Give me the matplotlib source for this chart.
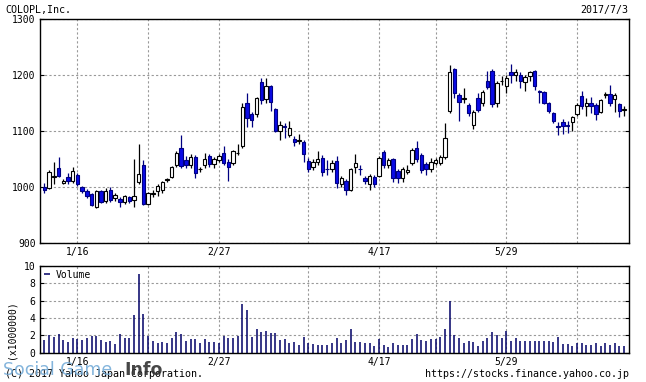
import pandas as pd
import matplotlib.pyplot as plt

# trading days (TSE holidays removed)
holidays = ['2017-01-09', '2017-03-20', '2017-05-03', '2017-05-04', '2017-05-05']
dates = pd.bdate_range('2017-01-04', '2017-07-03')
dates = dates[~dates.isin(pd.to_datetime(holidays))]

opens = [1000, 998, 1019, 1034, 1008, 1018, 1011, 1022, 1000, 993,
         988, 965, 994, 976, 996, 980, 979, 973, 982, 977,
         1010, 1040, 970, 988, 993, 995, 1013, 1019, 1039, 1071,
         1049, 1040, 1054, 1032, 1040, 1056, 1041, 1049, 1061, 1046,
         1043, 1061, 1073, 1150, 1131, 1130, 1188, 1158, 1180, 1140,
         1100, 1110, 1093, 1087, 1083, 1081, 1047, 1037, 1045, 1052,
         1033, 1032, 1047, 1005, 1011, 995, 1036, 1033, 1017, 1005,
         1019, 1021, 1063, 1040, 1051, 1029, 1017, 1028, 1043, 1071,
         1058, 1041, 1033, 1044, 1044, 1054, 1136, 1211, 1165, 1158,
         1147, 1111, 1159, 1150, 1189, 1207, 1151, 1189, 1181, 1206,
         1200, 1200, 1188, 1198, 1208, 1172, 1171, 1150, 1133, 1110,
         1117, 1112, 1117, 1130, 1163, 1145, 1150, 1147, 1135, 1165,
         1167, 1157, 1148, 1138]
highs = [1007, 1030, 1045, 1054, 1015, 1025, 1036, 1025, 1003, 997,
         990, 996, 996, 998, 1000, 990, 982, 987, 985, 1050,
         1077, 1049, 992, 995, 1005, 1012, 1016, 1038, 1064, 1093,
         1055, 1060, 1058, 1036, 1062, 1060, 1054, 1060, 1074, 1050,
         1067, 1077, 1150, 1168, 1135, 1162, 1195, 1196, 1183, 1142,
         1118, 1115, 1118, 1092, 1096, 1084, 1053, 1050, 1064, 1058,
         1048, 1048, 1056, 1020, 1015, 1035, 1059, 1040, 1020, 1024,
         1022, 1055, 1066, 1052, 1053, 1032, 1036, 1040, 1070, 1083,
         1062, 1045, 1052, 1052, 1058, 1114, 1218, 1213, 1168, 1178,
         1150, 1138, 1168, 1173, 1208, 1212, 1190, 1198, 1200, 1220,
         1212, 1205, 1200, 1208, 1210, 1174, 1172, 1152, 1135, 1117,
         1122, 1118, 1128, 1150, 1172, 1160, 1162, 1150, 1158, 1171,
         1183, 1168, 1150, 1145]
lows = [989, 997, 1005, 1019, 1005, 1005, 1008, 1002, 990, 980,
        966, 963, 972, 972, 974, 976, 965, 970, 972, 964,
        1005, 969, 968, 982, 985, 990, 1010, 1016, 1037, 1035,
        1035, 1035, 1016, 1028, 1035, 1036, 1034, 1046, 1040, 1012,
        1040, 1058, 1070, 1108, 1108, 1125, 1148, 1150, 1136, 1098,
        1084, 1088, 1090, 1074, 1078, 1046, 1028, 1030, 1040, 1020,
        1022, 1028, 998, 1000, 986, 993, 1025, 1022, 1005, 995,
        1000, 1018, 1035, 1035, 1010, 1007, 1010, 1024, 1040, 1045,
        1025, 1022, 1028, 1040, 1040, 1050, 1133, 1160, 1119, 1150,
        1128, 1104, 1134, 1145, 1175, 1143, 1143, 1183, 1168, 1186,
        1190, 1178, 1172, 1190, 1173, 1150, 1148, 1132, 1115, 1093,
        1095, 1097, 1100, 1128, 1140, 1128, 1132, 1121, 1132, 1160,
        1145, 1135, 1125, 1128]
closes = [995, 1028, 1021, 1021, 1011, 1012, 1029, 1005, 994, 985,
          968, 994, 974, 993, 977, 986, 973, 985, 976, 985,
          1024, 971, 990, 990, 1002, 1010, 1014, 1036, 1062, 1038,
          1040, 1054, 1025, 1033, 1050, 1041, 1050, 1056, 1043, 1036,
          1065, 1062, 1144, 1124, 1120, 1160, 1156, 1181, 1152, 1101,
          1112, 1107, 1105, 1080, 1084, 1059, 1032, 1046, 1050, 1028,
          1032, 1044, 1007, 1016, 995, 1033, 1043, 1032, 1012, 1021,
          1005, 1053, 1039, 1049, 1016, 1016, 1033, 1031, 1067, 1050,
          1030, 1033, 1046, 1049, 1054, 1088, 1205, 1168, 1153, 1159,
          1133, 1135, 1138, 1170, 1179, 1149, 1187, 1190, 1195, 1200,
          1206, 1189, 1197, 1205, 1180, 1170, 1150, 1137, 1119, 1107,
          1110, 1109, 1126, 1147, 1146, 1150, 1145, 1131, 1155, 1166,
          1150, 1165, 1137, 1139]
# volume in millions of shares
volume = [1.46, 2.04, 1.85, 2.15, 1.46, 1.19, 1.73, 1.58, 1.46, 1.73,
          1.96, 1.96, 1.46, 1.27, 1.35, 1.0, 2.15, 1.65, 1.73, 4.35,
          9.08, 4.46, 1.92, 1.35, 1.15, 1.19, 1.15, 1.73, 2.38, 2.15,
          1.38, 1.58, 1.58, 1.15, 1.58, 1.27, 1.27, 1.15, 1.96, 1.73,
          1.73, 1.96, 5.6, 4.92, 1.85, 2.73, 2.38, 2.5, 2.31, 2.31,
          1.46, 1.58, 1.15, 1.19, 0.88, 1.85, 1.15, 1.0, 0.88, 0.88,
          0.88, 1.08, 1.73, 1.08, 1.46, 2.73, 1.19, 1.19, 1.08, 1.08,
          0.8, 1.58, 0.88, 0.7, 1.08, 0.88, 0.88, 0.88, 1.58, 2.15,
          1.46, 1.38, 1.58, 1.58, 1.77, 2.73, 6.0, 2.04, 1.65, 1.08,
          1.38, 1.27, 0.77, 1.35, 1.73, 2.35, 2.04, 1.65, 2.54, 1.35,
          1.73, 1.38, 1.35, 1.35, 1.35, 1.35, 1.35, 1.35, 1.19, 1.85,
          1.0, 1.0, 0.8, 1.08, 1.08, 0.88, 0.88, 1.08, 0.77, 1.08,
          0.88, 1.08, 0.77, 0.8]

grid_dates = ['2017-01-16', '2017-02-06', '2017-02-27', '2017-03-27',
              '2017-04-17', '2017-05-08', '2017-05-29', '2017-06-19']
label_dates = ['2017-01-16', '2017-02-27', '2017-04-17', '2017-05-29']

df = pd.DataFrame({'open': opens, 'high': highs, 'low': lows,
                   'close': closes, 'volume': volume}, index=dates)
x = list(range(len(df)))
up = df['close'] >= df['open']

BLUE = '#0a0ae6'
mono = 'DejaVu Sans Mono'
plt.rcParams['font.family'] = mono

fig = plt.figure(figsize=(6.46, 3.82), dpi=100)
ax = fig.add_axes([0.0615, 0.3631, 0.9126, 0.5864])
axv = fig.add_axes([0.0615, 0.0767, 0.9126, 0.2270])

# candles
wick_col = ['black' if u else '#000080' for u in up]
ax.vlines(x, df['low'], df['high'], colors=wick_col, linewidth=0.9, zorder=2)
body_h = (df['close'] - df['open']).abs().clip(lower=0.6)
body_b = df[['open', 'close']].min(axis=1)
ax.bar(x, body_h, bottom=body_b, width=0.72,
       color=['white' if u else BLUE for u in up],
       edgecolor=['black' if u else '#000080' for u in up],
       linewidth=0.8, zorder=3)

# volume
axv.vlines(x, 0, df['volume'], colors='#000066', linewidth=1.1, zorder=2,
           label='Volume')

pos = {d: i for i, d in enumerate(df.index)}
gpos = [pos[pd.Timestamp(d)] for d in grid_dates]
glab = [pd.Timestamp(d).strftime('%-m/%-d') if d in label_dates else ''
        for d in grid_dates]

for a in (ax, axv):
    a.set_xlim(-1, 124.1)
    a.set_xticks(gpos)
    a.set_xticklabels(glab, fontsize=7)
    a.tick_params(axis='x', length=0, pad=3)
    a.tick_params(axis='y', direction='in', length=3, labelsize=7,
                  right=True, pad=3)
    a.grid(True, color='#999999', linestyle=(0, (2, 2)), linewidth=0.8)
    a.set_axisbelow(True)
    for s in a.spines.values():
        s.set_linewidth(1.0)

ax.set_ylim(900, 1300)
ax.set_yticks([900, 1000, 1100, 1200, 1300])
axv.set_ylim(0, 10)
axv.set_yticks([0, 2, 4, 6, 8, 10])

leg = axv.legend(loc='upper left', frameon=False, fontsize=7,
                 handlelength=0.7, handletextpad=0.5,
                 borderaxespad=0.2, borderpad=0.2)

fig.text(0.008, 1 - 10 / 382, 'COLOPL,Inc.', fontsize=7.2, va='center')
fig.text(0.973, 1 - 10 / 382, '2017/7/3', fontsize=7.2, va='center', ha='right')
fig.text(12 / 646, 1 - 330 / 382, '(x1000000)', fontsize=7, rotation=90,
         va='center', ha='center')
fig.text(0.008, 1 - 374 / 382, '(C) 2017 Yahoo Japan Corporation.',
         fontsize=7.2, va='center')
fig.text(0.973, 1 - 374 / 382, 'https://stocks.finance.yahoo.co.jp',
         fontsize=7.2, va='center', ha='right')

# watermark from the republishing site
fig.text(0.004, 1 - 370 / 382, 'Social Game', fontsize=12.5, color='#6fa8d6',
         alpha=0.85, va='center', family='DejaVu Sans')
fig.text(0.192, 1 - 370 / 382, 'Info', fontsize=12.5, color='#333333',
         fontweight='bold', alpha=0.9, va='center', family='DejaVu Sans')

plt.savefig('out.png', dpi=100)
